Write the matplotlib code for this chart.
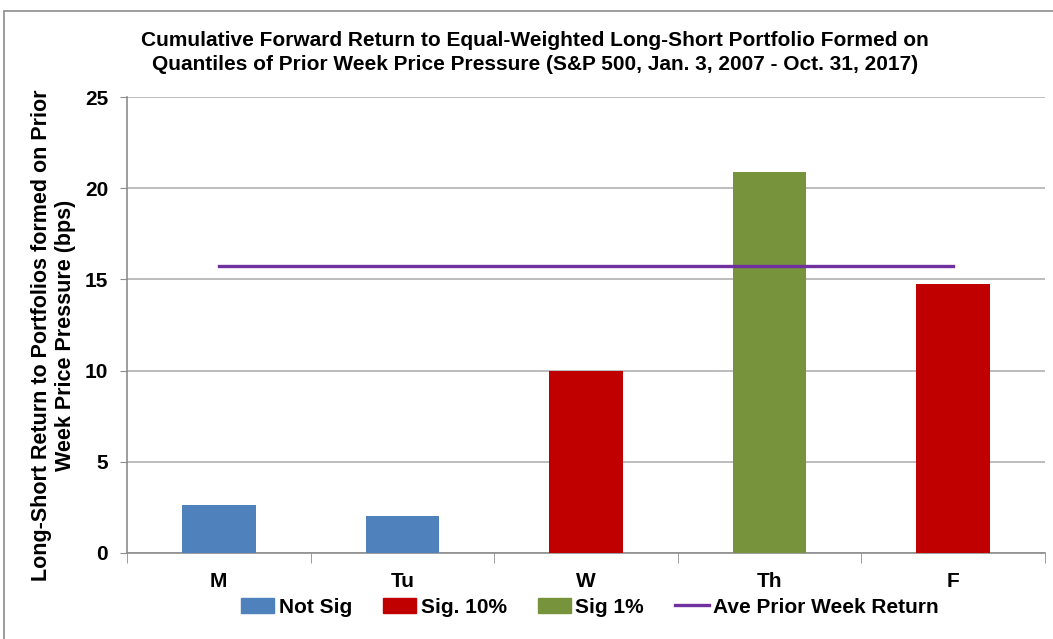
import matplotlib.pyplot as plt
from matplotlib.patches import Patch, Rectangle
from matplotlib.lines import Line2D

plt.rcParams['font.family'] = ['Liberation Sans', 'DejaVu Sans']
plt.rcParams['font.weight'] = 'bold'

days = ['M', 'Tu', 'W', 'Th', 'F']
returns = [2.65, 2.05, 10.0, 20.9, 14.75]
sig_class = ['Not Sig', 'Not Sig', 'Sig. 10%', 'Sig 1%', 'Sig. 10%']
ave_prior = [15.75, 15.75, 15.75, 15.75, 15.75]

palette = {'Not Sig': '#4f81bd', 'Sig. 10%': '#c00000', 'Sig 1%': '#77933c'}
line_color = '#7030a0'

fig = plt.figure(figsize=(10.53, 6.39), dpi=100)
ax = fig.add_axes([0.1206, 0.1346, 0.8718, 0.7136])

# outer chart border
fig.patches.append(Rectangle((4 / 1053, -0.1), 1.2, 1 - 11 / 639 + 0.1, transform=fig.transFigure,
                             fill=False, edgecolor='#8c8c8c', linewidth=1.2))

x = list(range(len(days)))
ax.bar(x, returns, width=0.4, color=[palette[s] for s in sig_class], zorder=3)
ax.plot(x, ave_prior, color=line_color, linewidth=2.4, zorder=4)

ax.set_xlim(-0.5, len(days) - 0.5)
ax.set_ylim(0, 25)
ax.set_yticks([0, 5, 10, 15, 20, 25])
ax.grid(axis='y', color='#b0b0b0', linewidth=1.2, zorder=0)

ax.set_xticks(x)
ax.set_xticklabels(days, fontsize=15, fontweight='bold')
ax.set_xticks([i - 0.5 for i in range(len(days) + 1)], minor=True)
ax.tick_params(axis='x', which='major', length=0, pad=14)
ax.tick_params(axis='x', which='minor', length=7, color='#8c8c8c')
ax.tick_params(axis='y', length=5, color='#8c8c8c', labelsize=15, pad=8.5)
for lbl in ax.get_yticklabels():
    lbl.set_fontweight('bold')

for s in ['top', 'right']:
    ax.spines[s].set_visible(False)
for s in ['left', 'bottom']:
    ax.spines[s].set_color('#8c8c8c')
    ax.spines[s].set_linewidth(1.2)

ax.set_ylabel('Long-Short Return to Portfolios formed on Prior\nWeek Price Pressure (bps)',
              fontsize=15.5, fontweight='bold', linespacing=1.15)
ax.yaxis.set_label_coords(-0.056, 0.478)

fig.text(0.508, 0.918, 'Cumulative Forward Return to Equal-Weighted Long-Short Portfolio Formed on\n'
         'Quantiles of Prior Week Price Pressure (S&P 500, Jan. 3, 2007 - Oct. 31, 2017)',
         ha='center', va='center', fontsize=15, fontweight='bold', linespacing=1.35)

handles = [Patch(color=palette['Not Sig']), Patch(color=palette['Sig. 10%']),
           Patch(color=palette['Sig 1%']), Line2D([0], [0], color=line_color, linewidth=2.4)]
labels = ['Not Sig', 'Sig. 10%', 'Sig 1%', 'Ave Prior Week Return']
fig.legend(handles, labels, loc='center', bbox_to_anchor=(0.560, 0.05), ncol=4, frameon=False,
           prop={'size': 15, 'weight': 'bold'}, handlelength=1.6, handleheight=0.7,
           handletextpad=0.2, columnspacing=1.5)

fig.savefig('out.png', dpi=100)
